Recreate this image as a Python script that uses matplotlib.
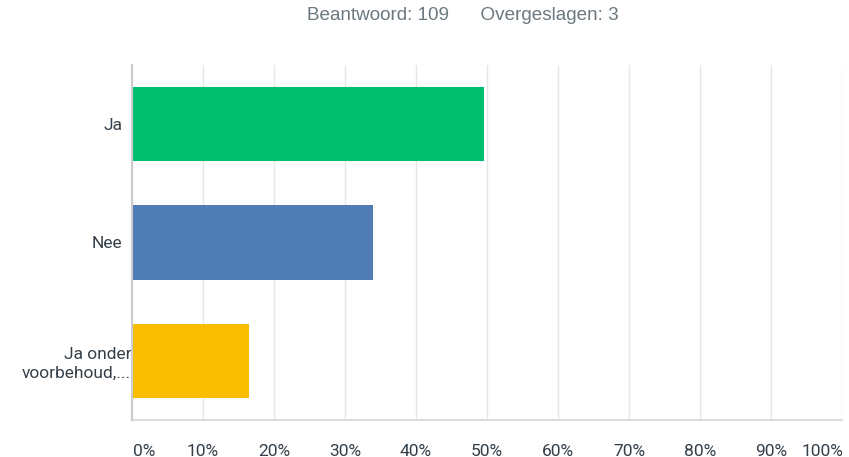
import matplotlib
matplotlib.use("Agg")
import matplotlib.pyplot as plt
import matplotlib.transforms as mtransforms

categories = ["Ja", "Nee", "Ja onder\nvoorbehoud,..."]
values = [49.54, 33.94, 16.51]
colors = ["#00BF6F", "#507CB6", "#F9BE00"]
ticks = [0, 10, 20, 30, 40, 50, 60, 70, 80, 90, 100]
tick_labels = [f"{t}%" for t in ticks]
title = "Beantwoord: 109      Overgeslagen: 3"

W, H = 849, 457
fig = plt.figure(figsize=(W / 100, H / 100), dpi=100)
ax = fig.add_axes([132 / W, 1 - 420 / H, (842 - 132) / W, (420 - 65) / H])

y = list(range(len(categories)))
ax.barh(y, values, height=0.63, color=colors, zorder=3)
ax.set_ylim(2.5, -0.5)
ax.set_xlim(0, 100)

ax.set_xticks(ticks)
ax.set_xticklabels([])
ax.tick_params(axis="x", length=0)
ax.grid(axis="x", color="#E6E6E6", linewidth=1, zorder=0)
for t, lab in zip(ticks, tick_labels):
    ha = "center"
    xoff = 0
    if t == 0:
        ha = "left"; xoff = 1
    elif t == 100:
        ha = "right"; xoff = 1
    ax.annotate(lab, xy=(t, 0), xycoords=("data", "axes fraction"),
                xytext=(xoff, -31), textcoords="offset pixels",
                ha=ha, va="center", fontsize=12.5, family="Roboto",
                color="#333E48")

ax.set_yticks(y)
ax.set_yticklabels(categories, fontsize=12.5, family="Roboto", color="#333E48",
                   ha="right", multialignment="right", linespacing=1.3)
ax.tick_params(axis="y", length=0, pad=7)
labs = ax.get_yticklabels()
labs[2].set_transform(labs[2].get_transform() +
                      mtransforms.ScaledTranslation(9 / 100, 0, fig.dpi_scale_trans))

for s in ["top", "right"]:
    ax.spines[s].set_visible(False)
ax.spines["left"].set_color("#CCCCCC")
ax.spines["bottom"].set_color("#DDDDDD")
ax.spines["left"].set_linewidth(1.5)
ax.spines["bottom"].set_linewidth(1.5)
ax.spines["left"].set_zorder(4)

fig.text(463 / W, 1 - 16 / H, title, ha="center", va="center",
         fontsize=13.6, family="Liberation Sans", color="#6B787F")

fig.savefig("out.png", dpi=100)
